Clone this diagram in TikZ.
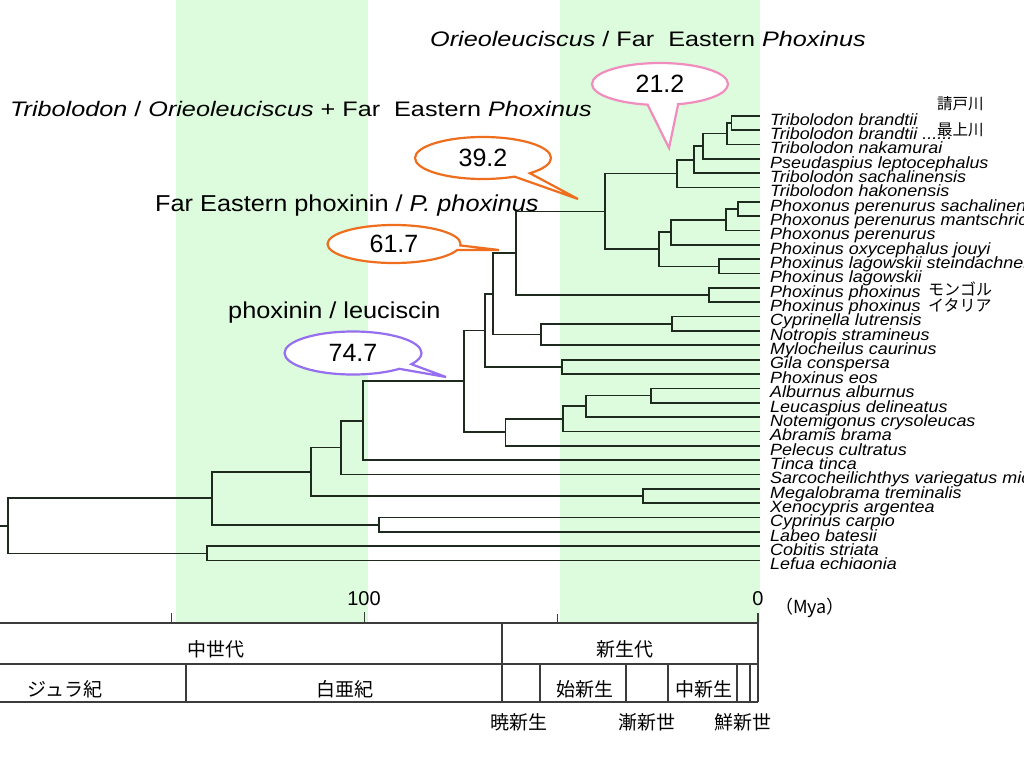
\documentclass[tikz,border=0pt]{standalone}
\usepackage{fontspec}
\usetikzlibrary{shapes.callouts}
\setmainfont{Liberation Sans}
\newfontfamily\lfam[FakeStretch=1.1]{Liberation Sans}
\newfontfamily\tfam[FakeStretch=1.2]{Liberation Sans}
\newfontfamily\jpfam{Noto Sans CJK JP}
\definecolor{bandgreen}{RGB}{221,252,221}
\definecolor{treecol}{RGB}{30,42,30}
\definecolor{tlcol}{RGB}{60,60,60}
\definecolor{pinkc}{RGB}{240,140,190}
\definecolor{orangec}{RGB}{238,110,30}
\definecolor{purplec}{RGB}{150,110,240}
\tikzset{
  branch/.style={draw=treecol, line width=1.7pt},
  leaflabel/.style={anchor=base west, inner sep=0pt, font=\lfam\itshape\fontsize{16.3}{18}\selectfont},
  titlelabel/.style={anchor=base west, inner sep=0pt},
  bubble/.style={ellipse callout, fill=white, line width=2.2pt, inner sep=0pt,
    font=\fontsize{25}{28}\selectfont},
  tline/.style={draw=tlcol, line width=1.6pt},
  tick/.style={draw=tlcol, line width=0.8pt},
  jplabel/.style={inner sep=0pt, font=\jpfam\fontsize{19}{22}\selectfont},
  jpsmall/.style={inner sep=0pt, font=\jpfam\fontsize{15.5}{18}\selectfont},
}
\begin{document}
\begin{tikzpicture}[x=1pt,y=-1pt]
\useasboundingbox (0,0) rectangle (1024,768);
\fill[white] (0,0) rectangle (1024,768);
% green bands
\fill[bandgreen] (176,0) rectangle (368,623);
\fill[bandgreen] (560,0) rectangle (760,623);

% leaves
\foreach \i in {0,...,31} \coordinate (l\i) at (760,{115.7+14.35*\i});

% internal nodes
\coordinate (nA) at (731.5,122.88);
\coordinate (nB) at (727,133.64);
\coordinate (nC) at (703,146.19);
\coordinate (nD) at (694,159.65);
\coordinate (nE) at (677,173.55);
\coordinate (nF) at (738,208.98);
\coordinate (nG) at (726,219.74);
\coordinate (nH) at (671,232.29);
\coordinate (nI) at (719,266.38);
\coordinate (nJ) at (659,249.33);
\coordinate (nK) at (605,211.44);
\coordinate (nL) at (709,295.08);
\coordinate (nM) at (516,253.26);
\coordinate (nP) at (672,323.78);
\coordinate (nO) at (541,334.54);
\coordinate (nN) at (493,293.90);
\coordinate (nR) at (562,366.83);
\coordinate (nQ) at (484.7,330.36);
\coordinate (nT1) at (651,395.53);
\coordinate (nT2) at (586,406.29);
\coordinate (nT3) at (563,418.84);
\coordinate (nT4) at (505.5,432.30);
\coordinate (nS) at (464,381.33);
\coordinate (nV) at (363,420.71);
\coordinate (nW) at (340.7,447.58);
\coordinate (nY) at (643,495.98);
\coordinate (nX) at (311,471.78);
\coordinate (nAA) at (379,524.68);
\coordinate (nZ) at (212,498.23);
\coordinate (nBB) at (207,553.38);
\coordinate (nRoot) at (8.3,525.8);
\coordinate (stub) at (0,525.8);

\foreach \p/\c in {nA/l0,nA/l1,nB/nA,nB/l2,nC/nB,nC/l3,nD/nC,nD/l4,nE/nD,nE/l5,
  nF/l6,nF/l7,nG/nF,nG/l8,nH/nG,nH/l9,nI/l10,nI/l11,nJ/nH,nJ/nI,nK/nE,nK/nJ,
  nL/l12,nL/l13,nM/nK,nM/nL,nP/l14,nP/l15,nO/nP,nO/l16,nN/nM,nN/nO,
  nR/l17,nR/l18,nQ/nN,nQ/nR,nT1/l19,nT1/l20,nT2/nT1,nT2/l21,nT3/nT2,nT3/l22,
  nT4/nT3,nT4/l23,nS/nQ,nS/nT4,nV/nS,nV/l24,nW/nV,nW/l25,nY/l26,nY/l27,
  nX/nW,nX/nY,nAA/l28,nAA/l29,nZ/nX,nZ/nAA,nBB/l30,nBB/l31,nRoot/nZ,nRoot/nBB}
  \draw[branch] (\p) |- (\c);
\draw[branch] (stub) -- (nRoot);

% leaf labels
\begin{scope}
\clip (762,0) rectangle (1024,568);
\foreach \n [count=\i from 0] in {Tribolodon brandtii, {Tribolodon brandtii {......}},
  Tribolodon nakamurai, Pseudaspius leptocephalus, Tribolodon sachalinensis,
  Tribolodon hakonensis, Phoxonus perenurus sachalinensis,
  Phoxonus perenurus mantschricus, Phoxonus perenurus, Phoxinus oxycephalus jouyi,
  Phoxinus lagowskii steindachneri, Phoxinus lagowskii, Phoxinus phoxinus,
  Phoxinus phoxinus, Cyprinella lutrensis, Notropis stramineus,
  Mylocheilus caurinus, Gila conspersa, Phoxinus eos, Alburnus alburnus,
  Leucaspius delineatus, Notemigonus crysoleucas, Abramis brama,
  Pelecus cultratus, Tinca tinca, Sarcocheilichthys variegatus microoculus,
  Megalobrama treminalis, Xenocypris argentea, Cyprinus carpio, Labeo batesii,
  Cobitis striata, Lefua echigonia}
  \node[leaflabel] (t\i) at (770,{115.7+14.35*\i+9.3}) {\n};
\end{scope}

% Japanese annotations near leaves
\node[jpsmall, anchor=west] (j1) at (937,104) {請戸川};
\node[jpsmall, anchor=west] (j2) at (937,129.5) {最上川};
\node[jpsmall, anchor=west, font=\jpfam\fontsize{16}{18}\selectfont] (j3) at (928,289) {モンゴル};
\node[jpsmall, anchor=west, font=\jpfam\fontsize{16}{18}\selectfont] (j4) at (928,305.5) {イタリア};

% titles
\node[titlelabel, font=\tfam\fontsize{21}{24}\selectfont] (h1) at (430,46.5)
  {\textit{Orieoleuciscus} / Far\ \ Eastern \textit{Phoxinus}};
\node[titlelabel, font=\tfam\fontsize{21}{24}\selectfont] (h2) at (10,116.7)
  {\textit{Tribolodon} / \textit{Orieoleuciscus} + Far\ \ Eastern \textit{Phoxinus}};
\node[titlelabel, font=\lfam\fontsize{23}{26}\selectfont] (h3) at (155,211.7)
  {Far Eastern phoxinin / \textit{P. phoxinus}};
\node[titlelabel, font=\lfam\fontsize{23}{26}\selectfont] (h4) at (228,318)
  {phoxinin / leuciscin};

% callouts
\node[bubble, draw=pinkc, minimum width=136pt, minimum height=42pt,
  callout absolute pointer={(669,148)}, callout pointer arc=26] (b1) at (660,84) {21.2};
\node[bubble, draw=orangec, minimum width=136pt, minimum height=42pt,
  callout absolute pointer={(578,199)}, callout pointer arc=16] (b2) at (483,158) {39.2};
\node[bubble, draw=orangec, minimum width=133pt, minimum height=38pt,
  callout absolute pointer={(499,250)}, callout pointer arc=14] (b3) at (394,244) {61.7};
\node[bubble, draw=purplec, minimum width=137pt, minimum height=43pt,
  callout absolute pointer={(446,377)}, callout pointer arc=16] (b4) at (353,353) {74.7};

% time axis and table
\draw[tick] (171,613) -- (171,623);
\draw[tick] (364,612) -- (364,623);
\draw[tick] (557,614) -- (557,623);
\draw[tline] (758,613) -- (758,702);
\draw[tline] (0,623) -- (758,623);
\draw[tline] (0,664) -- (758,664);
\draw[tline] (0,702) -- (758,702);
\draw[tline] (502,623) -- (502,702);
\foreach \xx in {186,540,626,668,737,750} \draw[tline] (\xx,664) -- (\xx,702);

\node[inner sep=0pt, anchor=base, font=\fontsize{20}{22}\selectfont] (a100) at (364,605) {100};
\node[inner sep=0pt, anchor=base, font=\fontsize{20}{22}\selectfont] (a0) at (758,605) {0};
\node[jplabel, font=\jpfam\fontsize{18}{20}\selectfont] (mya) at (810,608) {（Mya）};

\node[jplabel] (e1) at (216,649) {中世代};
\node[jplabel] (e2) at (625,649) {新生代};
\node[jplabel] (p1) at (65,689) {ジュラ紀};
\node[jplabel] (p2) at (345,689) {白亜紀};
\node[jplabel] (p3) at (585,689) {始新生};
\node[jplabel] (p4) at (704,689) {中新生};
\node[jplabel] (q1) at (519,722.5) {暁新生};
\node[jplabel] (q2) at (647,722.5) {漸新世};
\node[jplabel] (q3) at (743,722.5) {鮮新世};
\end{tikzpicture}
\end{document}
